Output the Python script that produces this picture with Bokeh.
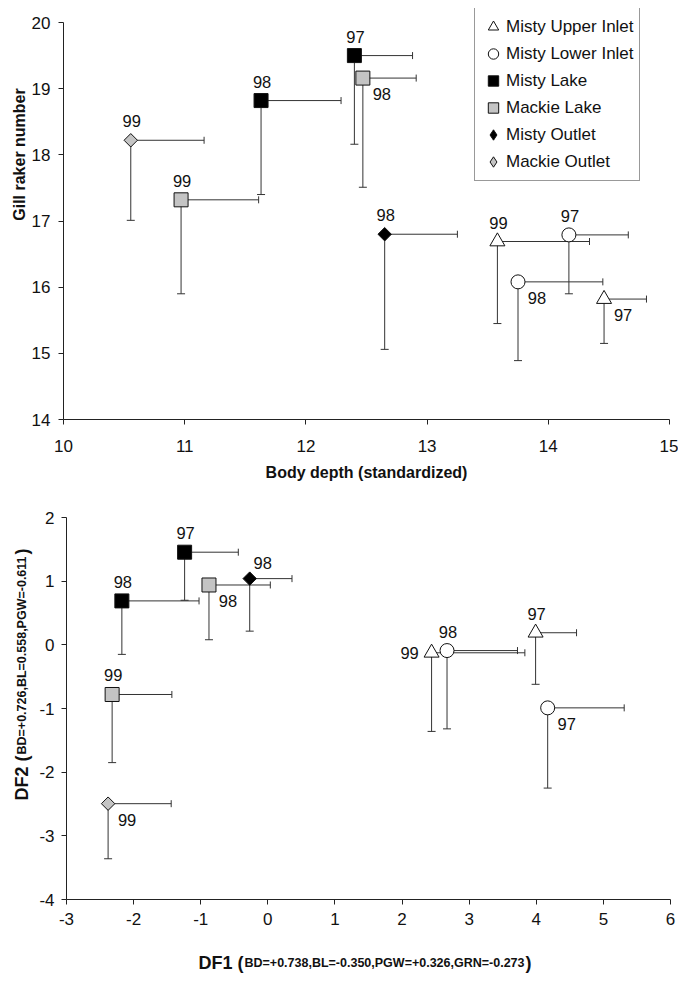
import math
from bokeh.plotting import figure
from bokeh.models import ColumnDataSource, Range1d, FixedTicker, Legend, LegendItem, Label
from bokeh.layouts import column, row
from bokeh.embed import file_html
from bokeh.resources import INLINE
from bokeh.core.properties import value

FONT = "Liberation Sans"

groups = ["Misty Upper Inlet", "Misty Lower Inlet", "Misty Lake",
          "Mackie Lake", "Misty Outlet", "Mackie Outlet"]

# ---- top panel: body depth vs gill raker number ----
top_group = ["Misty Upper Inlet", "Misty Upper Inlet", "Misty Lower Inlet", "Misty Lower Inlet",
             "Misty Lake", "Misty Lake", "Mackie Lake", "Mackie Lake", "Misty Outlet", "Mackie Outlet"]
top_year = ["97", "99", "97", "98", "97", "98", "98", "99", "98", "99"]
top_bd = [14.46, 13.58, 14.17, 13.75, 12.40, 11.63, 12.47, 10.97, 12.65, 10.555]
top_bd_hi = [14.81, 14.34, 14.66, 14.45, 12.88, 12.29, 12.91, 11.61, 13.25, 11.16]
top_grn = [15.82, 16.69, 16.79, 16.08, 19.50, 18.82, 19.16, 17.32, 16.80, 18.22]
top_grn_lo = [15.15, 15.45, 15.90, 14.89, 18.16, 17.40, 17.51, 15.90, 15.06, 17.01]
top_label_pos = ["below_right", "above", "above", "below_right", "above",
                 "above", "below_right", "above", "above", "above"]
top_xticks = [10, 11, 12, 13, 14, 15]
top_yticks = [14, 15, 16, 17, 18, 19, 20]

# ---- bottom panel: discriminant functions ----
bot_group = top_group
bot_year = top_year
bot_df1 = [3.99, 2.44, 4.17, 2.67, -1.24, -2.175, -0.877, -2.32, -0.27, -2.38]
bot_df1_hi = [4.60, 3.83, 5.31, 3.72, -0.44, -1.025, 0.037, -1.43, 0.36, -1.44]
bot_df2 = [0.19, -0.125, -0.99, -0.09, 1.455, 0.69, 0.94, -0.78, 1.04, -2.495]
bot_df2_lo = [-0.62, -1.36, -2.25, -1.32, 0.70, -0.15, 0.08, -1.85, 0.215, -3.36]
bot_label_pos = ["above", "left", "below_right", "above", "above",
                 "above", "below_right", "above", "above_right", "below_right"]
bot_xticks = [-3, -2, -1, 0, 1, 2, 3, 4, 5, 6]
bot_yticks = [-4, -3, -2, -1, 0, 1, 2]

ERR = "#333333"
GRAY = "#c4c4c4"
style = {
    "Misty Upper Inlet": dict(marker="triangle", fill_color="white", size=15, angle=0),
    "Misty Lower Inlet": dict(marker="circle", fill_color="white", size=14, angle=0),
    "Misty Lake": dict(marker="square", fill_color="black", size=14, angle=0),
    "Mackie Lake": dict(marker="square", fill_color=GRAY, size=14, angle=0),
    "Misty Outlet": dict(marker="square", fill_color="black", size=9.5, angle=math.pi / 4),
    "Mackie Outlet": dict(marker="square", fill_color=GRAY, size=9.5, angle=math.pi / 4),
}
OFF = {"above": (1, -19), "below_right": (19, 16), "left": (-22, 0), "above_right": (13, -16)}


def draw_panel(p, xs, xhi, ys, ylo, grp, yrs, pos):
    p.segment(x0=xs, y0=ys, x1=xhi, y1=ys, line_color=ERR, line_width=1)
    p.segment(x0=xs, y0=ys, x1=xs, y1=ylo, line_color=ERR, line_width=1)
    p.scatter(x=xhi, y=ys, marker="dash", angle=math.pi / 2, size=7, line_color=ERR, line_width=1)
    p.scatter(x=xs, y=ylo, marker="dash", size=8, line_color=ERR, line_width=1)
    legend_rends = {}
    for g in groups:
        idx = [i for i in range(len(grp)) if grp[i] == g]
        src = ColumnDataSource(dict(x=[xs[i] for i in idx], y=[ys[i] for i in idx]))
        st = style[g]
        if st["angle"] != 0:
            # un-rotated diamond drawn underneath (hidden by the rotated square);
            # used as the legend symbol because legend glyphs are never rotated
            legend_rends[g] = p.scatter("x", "y", source=src, marker="diamond", size=12,
                                        fill_color=st["fill_color"], line_color="#111111",
                                        line_width=1)
        r = p.scatter("x", "y", source=src, line_color="#111111", line_width=1, **st)
        legend_rends.setdefault(g, r)
    p.text(x=xs, y=ys, text=yrs,
           x_offset=[OFF[k][0] for k in pos], y_offset=[OFF[k][1] for k in pos],
           text_align="center", text_baseline="middle", text_font=value(FONT),
           text_font_size="16.5px", text_color="#111111")
    return legend_rends


def style_axes(p, xticks, yticks, xstand, ystand):
    p.xaxis.ticker = FixedTicker(ticks=xticks)
    p.yaxis.ticker = FixedTicker(ticks=yticks)
    p.xaxis.major_label_overrides = {t: str(t) for t in xticks}
    p.yaxis.major_label_overrides = {t: str(t) for t in yticks}
    p.xaxis.bounds = (xticks[0], xticks[-1])
    p.yaxis.bounds = (yticks[0], yticks[-1])
    for ax in (p.xaxis, p.yaxis):
        ax.axis_line_color = "#222222"
        ax.axis_line_width = 1
        ax.major_tick_line_color = "#222222"
        ax.major_tick_out = 5
        ax.major_tick_in = 0
        ax.minor_tick_line_color = None
        ax.major_label_text_font = FONT
        ax.major_label_text_font_size = "17px"
        ax.major_label_text_color = "#111111"
        ax.axis_label_text_font = FONT
        ax.axis_label_text_font_style = "bold"
        ax.axis_label_text_font_size = "16px"
        ax.axis_label_text_color = "#111111"
    p.xaxis.major_label_standoff = xstand
    p.yaxis.major_label_standoff = ystand
    p.xgrid.grid_line_color = None
    p.ygrid.grid_line_color = None
    p.outline_line_color = None


def text_strip(width, height):
    f = figure(width=width, height=height, output_backend="svg", toolbar_location=None,
               x_range=Range1d(0, 1), y_range=Range1d(0, 1),
               x_axis_location=None, y_axis_location=None,
               min_border_left=0, min_border_right=0, min_border_top=0, min_border_bottom=0)
    f.xgrid.grid_line_color = None
    f.ygrid.grid_line_color = None
    f.outline_line_color = None
    return f


lab_kw = dict(x_units="screen", y_units="screen", text_font=FONT,
              text_font_style="bold", text_color="#111111", text_baseline="middle")

# ---------------- top figure ----------------
top_px_per_unit = 397 / 6.0
p1 = figure(width=650, height=488, output_backend="svg", toolbar_location=None,
            x_range=Range1d(10, 15), y_range=Range1d(14, 20 + 14 / top_px_per_unit),
            min_border_left=35, min_border_right=9, min_border_top=8, min_border_bottom=69)
style_axes(p1, top_xticks, top_yticks, 15, 8)
p1.xaxis.axis_label = "Body depth (standardized)"
p1.xaxis.axis_label_standoff = 9
r1 = draw_panel(p1, top_bd, top_bd_hi, top_grn, top_grn_lo, top_group, top_year, top_label_pos)

legend = Legend(items=[LegendItem(label=g, renderers=[r1[g]]) for g in groups],
                location=(411, 238), margin=0, padding=5, spacing=0,
                glyph_width=26, glyph_height=27, label_height=27, label_standoff=0,
                label_text_font=FONT, label_text_font_size="17px", label_text_color="#111111",
                border_line_color="#333333", border_line_width=1,
                background_fill_color="white", background_fill_alpha=1)
p1.add_layout(legend)

ystrip1 = text_strip(28, 488)
ystrip1.add_layout(Label(x=19, y=265, text="Gill raker number", angle=math.pi / 2,
                         text_align="center", text_font_size="16px", **lab_kw))

# ---------------- bottom figure ----------------
p2 = figure(width=642, height=451, output_backend="svg", toolbar_location=None,
            x_range=Range1d(-3, 6), y_range=Range1d(-4, 2),
            min_border_left=29, min_border_right=8, min_border_top=29, min_border_bottom=40)
style_axes(p2, bot_xticks, bot_yticks, 8, 7)
draw_panel(p2, bot_df1, bot_df1_hi, bot_df2, bot_df2_lo, bot_group, bot_year, bot_label_pos)

# y axis title strip (mixed sizes, rotated)
ystrip2 = text_strip(36, 451)
ystrip2.add_layout(Label(x=21, y=144, text="DF2 (", angle=math.pi / 2, text_align="right",
                         text_font_size="18px", **lab_kw))
ystrip2.add_layout(Label(x=21, y=145, text="BD=+0.726,BL=0.558,PGW=-0.611", angle=math.pi / 2,
                         text_align="left", text_font_size="12.5px", **lab_kw))
ystrip2.add_layout(Label(x=21, y=345, text=")", angle=math.pi / 2, text_align="left",
                         text_font_size="18px", **lab_kw))

# x axis title strip (mixed sizes)
xstrip = text_strip(678, 40)
xstrip.add_layout(Label(x=243, y=17, text="DF1 (", text_align="right", text_font_size="18px", **lab_kw))
xstrip.add_layout(Label(x=244, y=17, text="BD=+0.738,BL=-0.350,PGW=+0.326,GRN=-0.273",
                        text_align="left", text_font_size="12.5px", **lab_kw))
xstrip.add_layout(Label(x=525, y=17, text=")", text_align="left", text_font_size="18px", **lab_kw))

layout = column(row(ystrip1, p1, spacing=0), row(ystrip2, p2, spacing=0), row(xstrip), spacing=0)
open("out.html", "w").write(file_html(layout, INLINE))
